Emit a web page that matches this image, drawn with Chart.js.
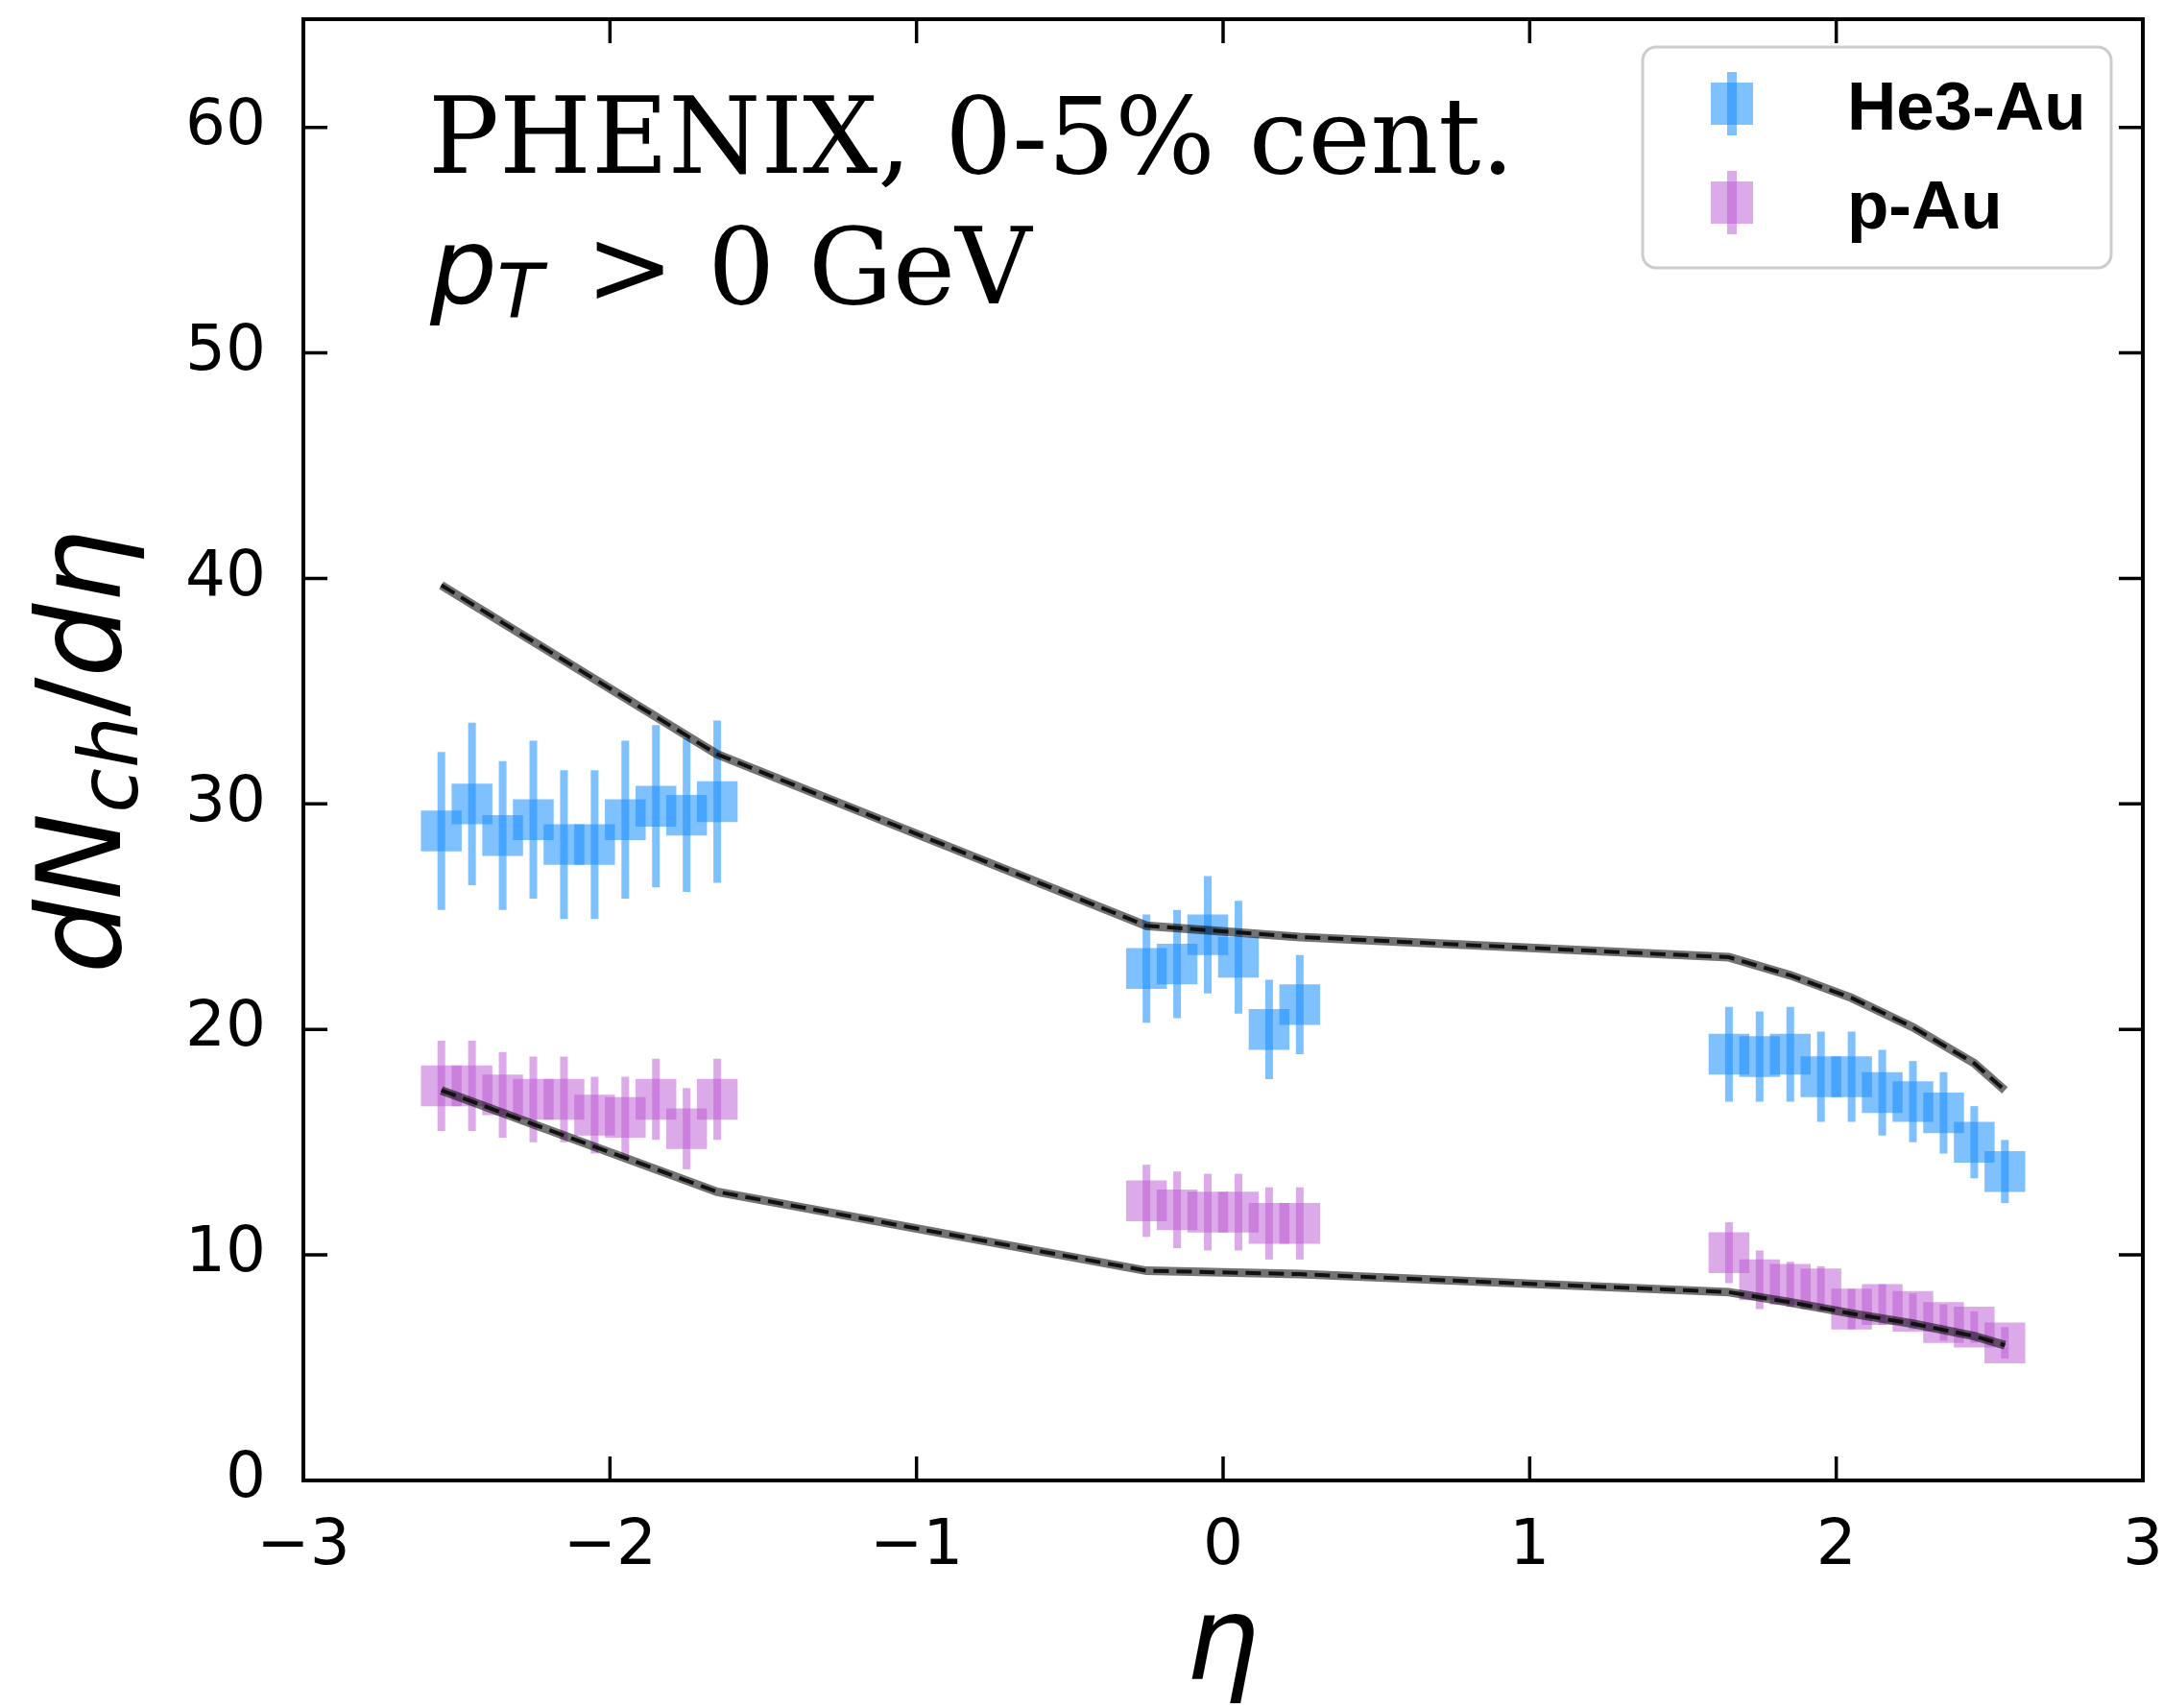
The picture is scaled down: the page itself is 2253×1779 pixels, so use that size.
<!DOCTYPE html>
<html>
<head>
<meta charset="utf-8">
<title>dNch/deta, PHENIX 0-5%</title>
<script src="https://cdn.jsdelivr.net/npm/chart.js@4.4.1/dist/chart.umd.min.js"></script>
<style>
  html, body { margin: 0; padding: 0; background: #fff; }
  #wrap { width: 2253px; height: 1779px; }
</style>
</head>
<body>
<div id="wrap"><canvas id="chart" width="2253" height="1779"></canvas></div>
<script>
// eta bin centres, shared by both systems (backward, mid, forward)
const etaBins = [
  -2.55, -2.45, -2.35, -2.25, -2.15, -2.05, -1.95, -1.85, -1.75, -1.65,
  -0.25, -0.15, -0.05, 0.05, 0.15, 0.25,
  1.65, 1.75, 1.85, 1.95, 2.05, 2.15, 2.25, 2.35, 2.45, 2.55
];

// He3-Au measured dNch/deta and its uncertainty
const he3Vals = [
  28.8, 30.0, 28.6, 29.3, 28.2, 28.2, 29.3, 29.9, 29.5, 30.1,
  22.7, 22.9, 24.2, 23.2, 20.0, 21.1,
  18.9, 18.8, 18.9, 17.9, 17.9, 17.2, 16.8, 16.3, 15.0, 13.7
];
const he3Err = [
  3.5, 3.6, 3.3, 3.5, 3.3, 3.3, 3.5, 3.6, 3.4, 3.6,
  2.4, 2.4, 2.6, 2.5, 2.2, 2.2,
  2.1, 2.0, 2.1, 2.0, 2.0, 1.9, 1.8, 1.8, 1.6, 1.4
];

// p-Au measured dNch/deta and its uncertainty
const pauVals = [
  17.5, 17.5, 17.1, 16.9, 16.9, 16.2, 16.1, 16.9, 15.6, 16.9,
  12.4, 12.0, 11.9, 11.9, 11.4, 11.4,
  10.1, 8.9, 8.7, 8.5, 7.6, 7.8, 7.5, 7.0, 6.8, 6.1
];
const pauErr = [
  2.0, 2.0, 1.9, 1.9, 1.9, 1.7, 1.8, 1.8, 1.8, 1.8,
  1.6, 1.7, 1.7, 1.7, 1.6, 1.6,
  1.35, 1.3, 1.0, 1.0, 0.9, 0.9, 0.8, 0.8, 0.7, 0.7
];

// model curves
const modelEta = [-2.55, -1.65, -0.25, 0.25, 1.65, 1.85, 2.05, 2.25, 2.45, 2.55];
const modelHe3 = [39.7, 32.2, 24.6, 24.1, 23.2, 22.4, 21.4, 20.1, 18.5, 17.3];
const modelPAu = [17.3, 12.8, 9.3, 9.15, 8.35, 7.9, 7.4, 6.95, 6.4, 6.0];

// axes
const xTicks = [-3, -2, -1, 0, 1, 2, 3];
const yTicks = [0, 10, 20, 30, 40, 50, 60];

const BLUE = 'rgba(30, 144, 255, 0.57)';
const PURPLE = 'rgba(186, 85, 211, 0.5)';

const pts = (xs, ys) => xs.map((x, i) => ({ x: x, y: ys[i] }));

// draws a run of text pieces (font / vertical shift) starting at x
function drawPieces(ctx, pieces, x, y, align) {
  let total = 0;
  pieces.forEach(p => { ctx.font = p.font; total += ctx.measureText(p.text).width; });
  let cx = align === 'center' ? x - total / 2 : x;
  ctx.textAlign = 'left';
  ctx.textBaseline = 'alphabetic';
  pieces.forEach(p => {
    ctx.font = p.font;
    ctx.fillText(p.text, cx, y + (p.dy || 0));
    cx += ctx.measureText(p.text).width;
  });
}

const errorBars = {
  id: 'errorBars',
  beforeDatasetsDraw(chart) {
    const { ctx, chartArea, scales: { x, y } } = chart;
    ctx.save();
    ctx.beginPath();
    ctx.rect(chartArea.left, chartArea.top, chartArea.width, chartArea.height);
    ctx.clip();
    chart.data.datasets.forEach(ds => {
      if (!ds.yErr) return;
      ctx.strokeStyle = ds.backgroundColor;
      ctx.lineWidth = 8;
      ds.data.forEach((p, i) => {
        const px = x.getPixelForValue(p.x);
        ctx.beginPath();
        ctx.moveTo(px, y.getPixelForValue(p.y - ds.yErr[i]));
        ctx.lineTo(px, y.getPixelForValue(p.y + ds.yErr[i]));
        ctx.stroke();
      });
    });
    ctx.restore();
  }
};

const frame = {
  id: 'frame',
  beforeDraw(chart) {
    const { ctx, width, height } = chart;
    ctx.save();
    ctx.fillStyle = '#fff';
    ctx.fillRect(0, 0, width, height);
    ctx.restore();
  },
  afterDraw(chart) {
    const { ctx, chartArea: a, scales: { x, y } } = chart;
    ctx.save();
    ctx.strokeStyle = '#000';
    ctx.lineWidth = 3.5;
    // inward ticks on all four sides
    xTicks.forEach(v => {
      const px = x.getPixelForValue(v);
      ctx.beginPath();
      ctx.moveTo(px, a.bottom); ctx.lineTo(px, a.bottom - 25);
      ctx.moveTo(px, a.top); ctx.lineTo(px, a.top + 25);
      ctx.stroke();
    });
    yTicks.forEach(v => {
      const py = y.getPixelForValue(v);
      ctx.beginPath();
      ctx.moveTo(a.left, py); ctx.lineTo(a.left + 25, py);
      ctx.moveTo(a.right, py); ctx.lineTo(a.right - 25, py);
      ctx.stroke();
    });
    ctx.lineWidth = 4;
    ctx.strokeRect(a.left, a.top, a.width, a.height);

    ctx.fillStyle = '#000';
    // header text
    ctx.font = "110px 'DejaVu Serif'";
    ctx.textAlign = 'left';
    ctx.textBaseline = 'alphabetic';
    ctx.fillText('PHENIX, 0-5% cent.', 446, 180);
    drawPieces(ctx, [
      { text: 'p', font: "italic 110px 'DejaVu Sans'" },
      { text: 'T', font: "italic 78px 'DejaVu Sans'", dy: 15 }
    ], 448, 316, 'left');
    ctx.font = "110px 'DejaVu Serif'";
    ctx.fillText('> 0 GeV', 610, 316);

    // axis titles
    drawPieces(ctx, [{ text: '\u03b7', font: "italic 121px 'DejaVu Sans'" }], 1273, 1749, 'center');
    ctx.save();
    ctx.translate(125, 783);
    ctx.rotate(-Math.PI / 2);
    drawPieces(ctx, [
      { text: 'dN', font: "italic 121px 'DejaVu Sans'" },
      { text: 'ch', font: "italic 85px 'DejaVu Sans'", dy: 18 },
      { text: '/', font: "121px 'DejaVu Sans'" },
      { text: 'd\u03b7', font: "italic 121px 'DejaVu Sans'" }
    ], 0, 0, 'center');
    ctx.restore();

    // legend
    const lx = 1711, ly = 49, lw = 488, lh = 230;
    ctx.beginPath();
    ctx.roundRect(lx, ly, lw, lh, 14);
    ctx.fillStyle = 'rgba(255,255,255,0.8)';
    ctx.fill();
    ctx.strokeStyle = 'rgba(0,0,0,0.2)';
    ctx.lineWidth = 3;
    ctx.stroke();
    [[BLUE, 'He3-Au', 108], [PURPLE, 'p-Au', 211]].forEach(([c, label, cy]) => {
      ctx.fillStyle = c;
      ctx.fillRect(1782, cy - 22, 44, 44);
      ctx.fillRect(1799, cy - 33, 10, 66);
      ctx.fillStyle = '#000';
      ctx.font = "bold 71px 'Liberation Sans'";
      ctx.fillText(label, 1924, cy + 27);
    });
    ctx.restore();
  }
};

const tickFont = { family: 'DejaVu Sans', size: 66 };
const minus = v => (v < 0 ? '\u2212' + Math.abs(v) : String(v));

new Chart(document.getElementById('chart'), {
  type: 'scatter',
  data: {
    datasets: [
      { type: 'line', data: pts(modelEta, modelHe3), borderColor: '#111', borderWidth: 4,
        borderDash: [16, 8], pointRadius: 0, fill: false, order: 0 },
      { type: 'line', data: pts(modelEta, modelHe3), borderColor: 'rgba(0,0,0,0.55)', borderWidth: 9,
        pointRadius: 0, fill: false, order: 1 },
      { type: 'line', data: pts(modelEta, modelPAu), borderColor: '#111', borderWidth: 4,
        borderDash: [16, 8], pointRadius: 0, fill: false, order: 0 },
      { type: 'line', data: pts(modelEta, modelPAu), borderColor: 'rgba(0,0,0,0.55)', borderWidth: 9,
        pointRadius: 0, fill: false, order: 1 },
      { label: 'He3-Au', data: pts(etaBins, he3Vals), yErr: he3Err, backgroundColor: BLUE,
        borderWidth: 0, pointStyle: 'rect', pointRadius: 30, order: 3 },
      { label: 'p-Au', data: pts(etaBins, pauVals), yErr: pauErr, backgroundColor: PURPLE,
        borderWidth: 0, pointStyle: 'rect', pointRadius: 30, order: 2 }
    ]
  },
  options: {
    responsive: false,
    animation: false,
    events: [],
    layout: { autoPadding: false, padding: { top: 20, right: 21, left: 0, bottom: 0 } },
    plugins: { legend: { display: false }, tooltip: { enabled: false } },
    scales: {
      x: {
        type: 'linear', min: -3, max: 3,
        grid: { display: false, drawTicks: false },
        border: { display: false },
        ticks: { stepSize: 1, padding: 30, color: '#000', font: tickFont, maxRotation: 0,
                 autoSkip: false, callback: minus },
        afterFit: s => { s.height = 237; s.paddingLeft = 0; s.paddingRight = 0; }
      },
      y: {
        min: 0, max: 64.8,
        grid: { display: false, drawTicks: false },
        border: { display: false },
        ticks: { stepSize: 10, includeBounds: false, padding: 39, color: '#000', font: tickFont },
        afterFit: s => { s.width = 316; s.paddingTop = 0; s.paddingBottom = 0; }
      }
    }
  },
  plugins: [frame, errorBars]
});
</script>
</body>
</html>
